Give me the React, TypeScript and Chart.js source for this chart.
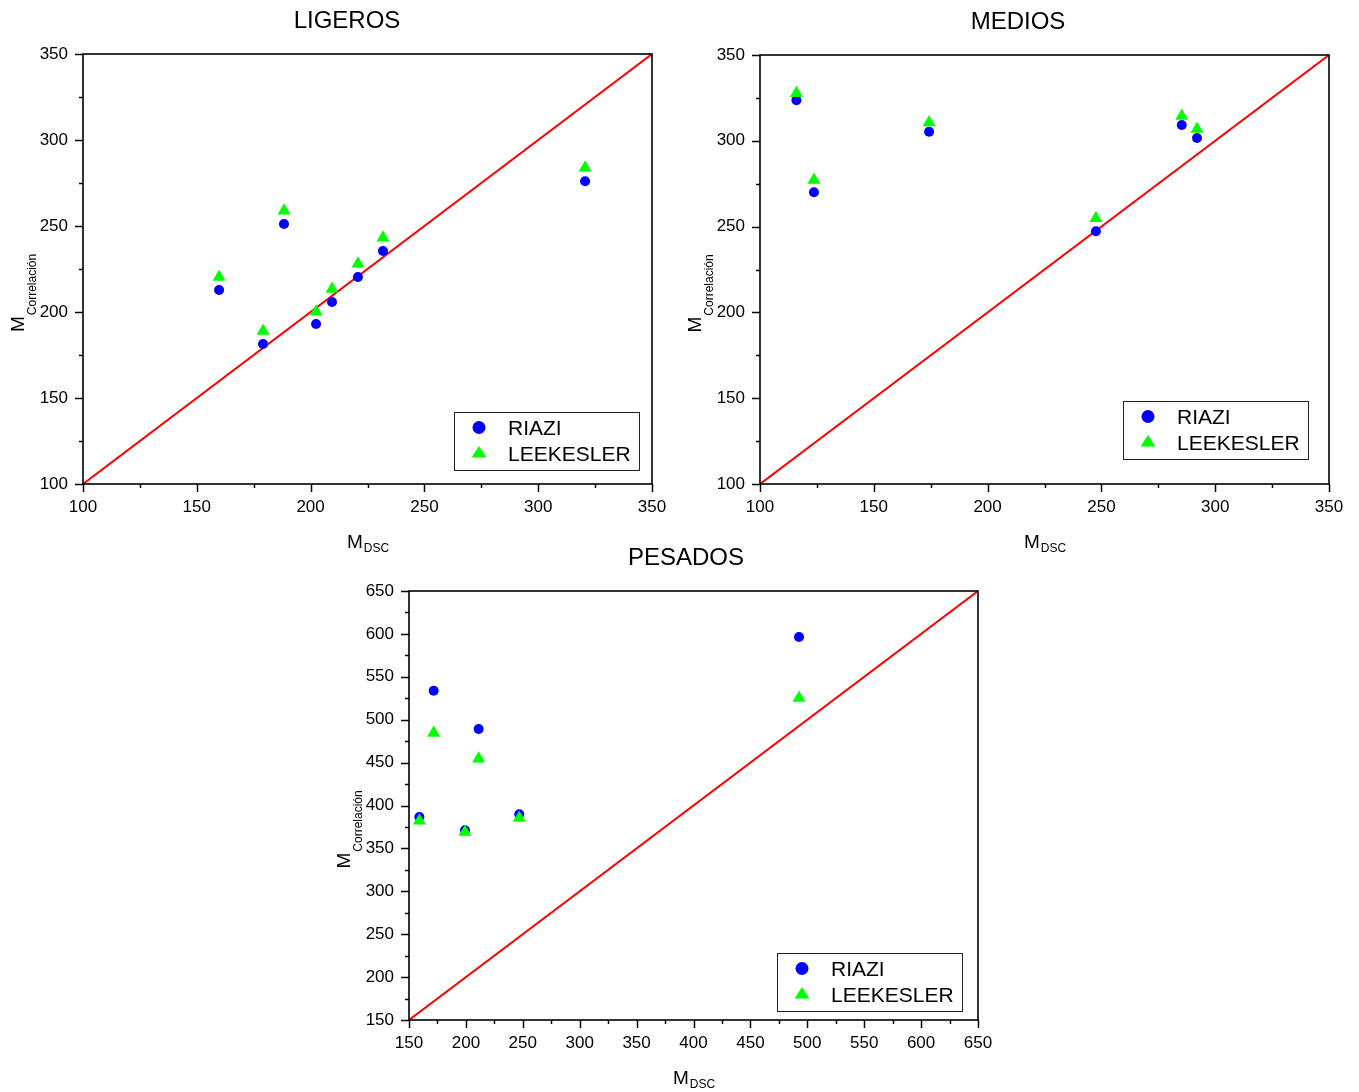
import React, { useEffect, useRef } from "react";
import { Chart, registerables } from "chart.js";
Chart.register(...registerables);

const FONT = '"Liberation Sans", Arial, Helvetica, sans-serif';

// ---- data ----
const SERIES_NAMES = ["RIAZI", "LEEKESLER"];
const TITLES = ["LIGEROS", "MEDIOS", "PESADOS"];

const LIG_DSC = [159.8, 179.1, 188.3, 202.4, 209.4, 220.8, 231.8, 320.6];
const LIG_RIAZI = [212.8, 181.4, 251.2, 193.0, 205.8, 220.3, 235.5, 276.0];
const LIG_LEEKESLER = [220.3, 189.0, 258.9, 200.2, 213.4, 228.1, 243.2, 283.9];

const MED_DSC = [116.0, 123.7, 174.3, 247.6, 285.3, 292.0];
const MED_RIAZI = [323.6, 270.0, 305.3, 247.3, 309.2, 301.6];
const MED_LEEKESLER = [327.7, 277.2, 310.6, 254.8, 314.5, 306.9];

const PES_DSC = [159.1, 171.7, 199.2, 211.2, 246.9, 492.7];
const PES_RIAZI = [386.6, 533.8, 371.1, 489.2, 389.7, 596.4];
const PES_LEEKESLER = [382.3, 484.5, 369.1, 454.6, 385.4, 525.3];

const LIG_RANGE = [100, 350];
const MED_RANGE = [100, 350];
const PES_RANGE = [150, 650];

const TICK_STEP = 25;
const LABEL_STEP = 50;

type Cfg = {
  title: string;
  titleX: number;
  left: number;
  top: number;
  width: number;
  height: number;
  plot: [number, number, number, number];
  range: number[];
  dsc: number[];
  riazi: number[];
  lee: number[];
  legend: [number, number];
};

function Scatter({ cfg }: { cfg: Cfg }) {
  const ref = useRef<HTMLCanvasElement | null>(null);
  useEffect(() => {
    const canvas = ref.current;
    if (!canvas) return;
    const [pl, pt, pr, pb] = cfg.plot;
    const toPts = (xs: number[], ys: number[]) => xs.map((x, i) => ({ x, y: ys[i] }));

    const deco = {
      id: "deco",
      afterDraw(chart: any) {
        const ctx = chart.ctx as CanvasRenderingContext2D;
        const a = chart.chartArea;
        const xs = chart.scales.x;
        const ys = chart.scales.y;
        ctx.save();
        ctx.strokeStyle = "#000";
        ctx.lineWidth = 1.6;
        ctx.strokeRect(a.left, a.top, a.right - a.left, a.bottom - a.top);
        ctx.lineWidth = 1.5;
        ctx.beginPath();
        xs.ticks.forEach((t: any) => {
          const px = Math.round(xs.getPixelForValue(t.value)) + 0.5;
          const len = t.value % LABEL_STEP === 0 ? 8 : 4;
          ctx.moveTo(px, a.bottom);
          ctx.lineTo(px, a.bottom + len);
        });
        ys.ticks.forEach((t: any) => {
          const py = Math.round(ys.getPixelForValue(t.value)) + 0.5;
          const len = t.value % LABEL_STEP === 0 ? 8 : 4;
          ctx.moveTo(a.left, py);
          ctx.lineTo(a.left - len, py);
        });
        ctx.stroke();

        // title
        ctx.fillStyle = "#000";
        ctx.font = `24px ${FONT}`;
        ctx.textAlign = "center";
        ctx.textBaseline = "alphabetic";
        ctx.fillText(cfg.title, cfg.titleX - cfg.left, a.top - 26);

        // x axis title M_DSC
        ctx.textAlign = "left";
        ctx.font = `19px ${FONT}`;
        const mW = ctx.measureText("M").width;
        ctx.font = `12px ${FONT}`;
        const sW = ctx.measureText("DSC").width;
        const cx = (a.left + a.right) / 2;
        const x0 = cx - (mW + sW) / 2;
        ctx.font = `19px ${FONT}`;
        ctx.fillText("M", x0, a.bottom + 64);
        ctx.font = `12px ${FONT}`;
        ctx.fillText("DSC", x0 + mW + 1, a.bottom + 68);

        // y axis title M_Correlación
        const cy = (a.top + a.bottom) / 2;
        ctx.save();
        ctx.translate(a.left - 59, cy + 63);
        ctx.rotate(-Math.PI / 2);
        ctx.font = `19px ${FONT}`;
        ctx.fillText("M", 0, 0);
        const mW2 = ctx.measureText("M").width;
        ctx.font = `12px ${FONT}`;
        ctx.fillText("Correlación", mW2 + 1, 12);
        ctx.restore();

        // legend
        const [lx, ly] = cfg.legend;
        ctx.lineWidth = 1;
        ctx.strokeStyle = "#222";
        ctx.strokeRect(lx + 0.5, ly + 0.5, 185, 58);
        ctx.fillStyle = "#0000FF";
        ctx.beginPath();
        ctx.arc(lx + 25, ly + 15.5, 6.5, 0, Math.PI * 2);
        ctx.fill();
        ctx.fillStyle = "#00FF00";
        ctx.beginPath();
        ctx.moveTo(lx + 25, ly + 34);
        ctx.lineTo(lx + 32.5, ly + 45.5);
        ctx.lineTo(lx + 17.5, ly + 45.5);
        ctx.closePath();
        ctx.fill();
        ctx.fillStyle = "#000";
        ctx.font = `21px ${FONT}`;
        ctx.fillText(SERIES_NAMES[0], lx + 54, ly + 23);
        ctx.fillText(SERIES_NAMES[1], lx + 54, ly + 49);
        ctx.restore();
      },
    };

    const tickOpts = {
      stepSize: TICK_STEP,
      autoSkip: false,
      maxRotation: 0,
      minRotation: 0,
      color: "#000",
      font: { family: FONT, size: 17 },
      callback: (v: any) => (Number(v) % LABEL_STEP === 0 ? String(v) : ""),
    };
    const gridOpts = {
      display: true,
      drawOnChartArea: false,
      drawTicks: true,
      tickLength: 8,
      color: "rgba(0,0,0,0)",
    };

    const chart = new Chart(canvas, {
      type: "scatter",
      data: {
        datasets: [
          {
            label: "diag",
            data: [
              { x: cfg.range[0], y: cfg.range[0] },
              { x: cfg.range[1], y: cfg.range[1] },
            ],
            showLine: true,
            borderColor: "#FF0000",
            borderWidth: 2,
            pointRadius: 0,
            order: 3,
          },
          {
            label: SERIES_NAMES[0],
            data: toPts(cfg.dsc, cfg.riazi),
            pointStyle: "circle",
            pointRadius: 5,
            backgroundColor: "#0000FF",
            borderColor: "#0000FF",
            borderWidth: 0,
            order: 2,
          },
          {
            label: SERIES_NAMES[1],
            data: toPts(cfg.dsc, cfg.lee),
            pointStyle: "triangle",
            pointRadius: 7.5,
            backgroundColor: "#00FF00",
            borderColor: "#00FF00",
            borderWidth: 0,
            order: 1,
          },
        ],
      } as any,
      options: {
        animation: false,
        responsive: false,
        maintainAspectRatio: false,
        layout: { padding: { left: 0, top: pt, right: cfg.width - pr, bottom: 0 } },
        plugins: { legend: { display: false }, title: { display: false }, tooltip: { enabled: false } },
        scales: {
          x: {
            type: "linear",
            min: cfg.range[0],
            max: cfg.range[1],
            ticks: { ...tickOpts, padding: 5 },
            grid: gridOpts,
            border: { display: false },
            afterFit: (s: any) => {
              s.height = cfg.height - pb;
            },
          },
          y: {
            type: "linear",
            min: cfg.range[0],
            max: cfg.range[1],
            ticks: { ...tickOpts, padding: 7 },
            grid: gridOpts,
            border: { display: false },
            afterFit: (s: any) => {
              s.width = pl;
            },
          },
        },
      } as any,
      plugins: [deco],
    });
    return () => chart.destroy();
  }, [cfg]);
  return (
    <canvas
      ref={ref}
      width={cfg.width}
      height={cfg.height}
      style={{ position: "absolute", left: cfg.left, top: cfg.top, width: cfg.width, height: cfg.height }}
    />
  );
}

const CFGS: Cfg[] = [
  {
    title: TITLES[0],
    titleX: 347,
    left: 0,
    top: 0,
    width: 680,
    height: 560,
    plot: [83, 54, 652, 484],
    range: LIG_RANGE,
    dsc: LIG_DSC,
    riazi: LIG_RIAZI,
    lee: LIG_LEEKESLER,
    legend: [454, 412],
  },
  {
    title: TITLES[1],
    titleX: 1018,
    left: 680,
    top: 0,
    width: 679,
    height: 560,
    plot: [80, 55, 649, 484],
    range: MED_RANGE,
    dsc: MED_DSC,
    riazi: MED_RIAZI,
    lee: MED_LEEKESLER,
    legend: [443, 401],
  },
  {
    title: TITLES[2],
    titleX: 686,
    left: 320,
    top: 530,
    width: 700,
    height: 562,
    plot: [89, 61, 658, 490],
    range: PES_RANGE,
    dsc: PES_DSC,
    riazi: PES_RIAZI,
    lee: PES_LEEKESLER,
    legend: [457, 423],
  },
];

export default function App() {
  return (
    <div
      style={{
        position: "absolute",
        left: 0,
        top: 0,
        width: 1359,
        height: 1092,
        background: "#fff",
        overflow: "hidden",
      }}
    >
      {CFGS.map((c) => (
        <Scatter key={c.title} cfg={c} />
      ))}
    </div>
  );
}
